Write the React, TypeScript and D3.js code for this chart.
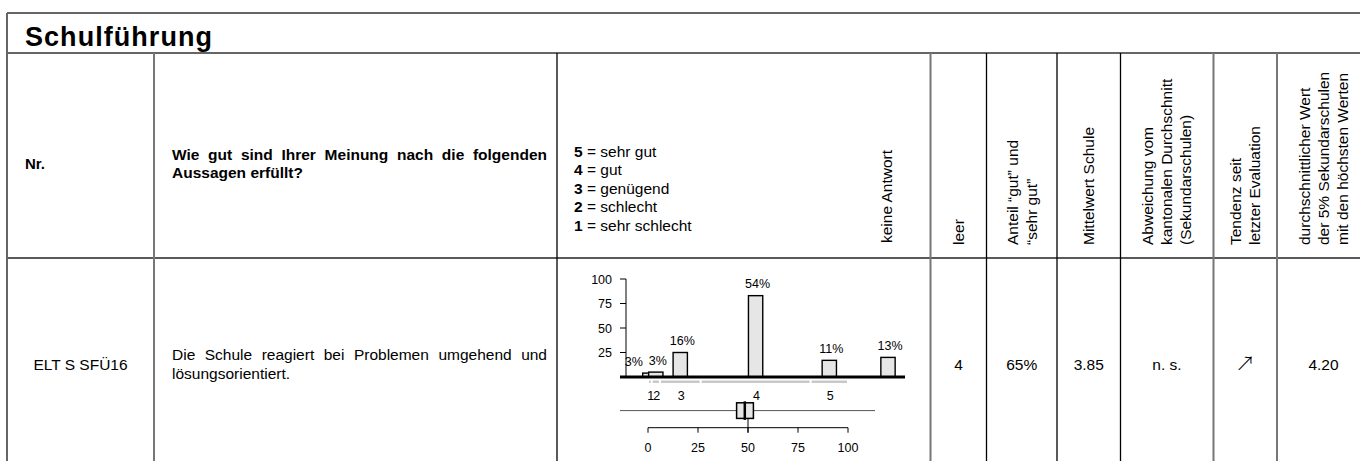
import React from 'react';
import * as d3 from 'd3';

// ---------- data ----------
const title = 'Schulführung';
const headerNr = 'Nr.';
const headerQuestion = 'Wie gut sind Ihrer Meinung nach die folgenden Aussagen erfüllt?';
const legendKeys = ['5', '4', '3', '2', '1'];
const legendLabels = ['sehr gut', 'gut', 'genügend', 'schlecht', 'sehr schlecht'];
const noAnswerLabel = 'keine Antwort';
const columnHeaders: string[][] = [
  ['leer'],
  ['Anteil “gut” und', '“sehr gut”'],
  ['Mittelwert Schule'],
  ['Abweichung vom', 'kantonalen Durchschnitt', '(Sekundarschulen)'],
  ['Tendenz seit', 'letzter Evaluation'],
  ['durchschnittlicher Wert', 'der 5% Sekundarschulen', 'mit den höchsten Werten'],
];
const itemNr = 'ELT S SFÜ16';
const itemText = 'Die Schule reagiert bei Problemen umgehend und lösungsorientiert.';
const rowValues = ['4', '65%', '3.85', 'n. s.', '↗', '4.20'];

const categories = ['1', '2', '3', '4', '5'];
const counts = [4, 5, 25, 83, 17];
const percents = ['3%', '3%', '16%', '54%', '11%'];
const catBounds = [0, 1.85, 5.95, 26.3, 81.3, 100];
const noAnswerCount = 20;
const noAnswerPercent = '13%';
const noAnswerPos = 120;
const yTicks = [25, 50, 75, 100];
const xTicks = [0, 25, 50, 75, 100];
const boxLo = -14;
const boxQ1 = 44.3;
const boxMedian = 48.4;
const boxQ3 = 52.7;
const boxHi = 113.5;

// ---------- layout ----------
const W = 1360;
const H = 461;
const FONT = "'Liberation Sans', Arial, Helvetica, sans-serif";
const colX = [7, 154, 557, 930.5, 986.5, 1057, 1120.5, 1213.5, 1277, 1370];
const grayCols = new Set([0, 1, 3, 7, 8]);
const yTop = 13;
const yTitle = 53;
const yHead = 258;

let ctx: CanvasRenderingContext2D | null = null;
function measure(text: string, font: string) {
  if (!ctx) ctx = document.createElement('canvas').getContext('2d');
  ctx!.font = font;
  return ctx!.measureText(text).width;
}

function justify(text: string, font: string, width: number) {
  const words = text.split(' ');
  const space = measure(' ', font);
  const lines: string[][] = [];
  let cur: string[] = [];
  let curW = 0;
  words.forEach((w) => {
    const ww = measure(w, font);
    const nw = cur.length ? curW + space + ww : ww;
    if (cur.length && nw > width) {
      lines.push(cur);
      cur = [w];
      curW = ww;
    } else {
      cur.push(w);
      curW = nw;
    }
  });
  if (cur.length) lines.push(cur);
  return lines.map((ln, li) => {
    const widths = ln.map((w) => measure(w, font));
    const total = d3.sum(widths);
    const last = li === lines.length - 1;
    const gap = !last && ln.length > 1 ? (width - total) / (ln.length - 1) : space;
    let xx = 0;
    return ln.map((w, i) => {
      const r = { w, x: xx };
      xx += widths[i] + gap;
      return r;
    });
  });
}

function JustifiedText({ text, x, y, width, size, weight, lh }: any) {
  const font = `${weight} ${size}px 'Liberation Sans'`;
  const lines = justify(text, font, width);
  return (
    <g>
      {lines.map((ln, i) => (
        <text key={i} y={y + i * lh} fontSize={size} fontWeight={weight} fontFamily={FONT}>
          {ln.map((wd, j) => (
            <tspan key={j} x={x + wd.x}>{wd.w}</tspan>
          ))}
        </text>
      ))}
    </g>
  );
}

export default function App() {
  const x = d3.scaleLinear().domain([0, 100]).range([648, 848]);
  const y = d3.scaleLinear().domain([0, 100]).range([377, 279]);
  const barW = 14.3;
  const mids = categories.map((_, i) => (catBounds[i] + catBounds[i + 1]) / 2);
  const bars = categories
    .map((c, i) => ({ key: c, pos: mids[i], count: counts[i], pct: percents[i] }))
    .concat([{ key: 'kA', pos: noAnswerPos, count: noAnswerCount, pct: noAnswerPercent }]);

  // label positions with simple collision avoidance
  const labelX = bars.map((b) => x(b.pos) + 2);
  for (let i = labelX.length - 1; i > 0; i--) {
    if (labelX[i] - labelX[i - 1] < 24) labelX[i - 1] = labelX[i] - 24;
  }

  const rowBase = 369.5;
  const boxY = 410.6;
  const boxH = 15.6;
  const axisY = 427.7;

  return (
    <svg width={W} height={H} style={{ position: 'absolute', left: 0, top: 0, background: '#fff' }}>
      {/* table frame */}
      <line x1={colX[0]} x2={W} y1={yTop} y2={yTop} stroke="#333" strokeWidth={1.5} />
      <line x1={colX[0]} x2={W} y1={yTitle} y2={yTitle} stroke="#333" strokeWidth={1.5} />
      <line x1={colX[0]} x2={W} y1={yHead} y2={yHead} stroke="#222" strokeWidth={1.5} />
      <line x1={colX[0]} x2={colX[0]} y1={yTop} y2={H} stroke="#666" strokeWidth={2} />
      {colX.slice(1, -1).map((cx, i) => (
        <line key={i} x1={cx} x2={cx} y1={yTitle} y2={H}
          stroke={grayCols.has(i + 1) ? '#777' : '#000'} strokeWidth={grayCols.has(i + 1) ? 2 : 1.3} />
      ))}

      {/* title */}
      <text x={25} y={45.5} fontSize={27} fontWeight="bold" fontFamily={FONT} textLength={187} lengthAdjust="spacing">{title}</text>

      {/* header row */}
      <text x={25} y={168.5} fontSize={15} fontWeight="bold" fontFamily={FONT}>{headerNr}</text>
      <JustifiedText text={headerQuestion} x={172} y={159.5} width={375} size={15.5} weight="bold" lh={18.5} />
      {legendKeys.map((k, i) => (
        <text key={k} x={574} y={156.7 + i * 18.5} fontSize={15.5} fontFamily={FONT}>
          <tspan fontWeight="bold">{k}</tspan>
          <tspan> = {legendLabels[i]}</tspan>
        </text>
      ))}
      <text transform={`translate(${x(noAnswerPos) - 1.5},243) rotate(-90)`} dy="0.35em" fontSize={15.5} fontFamily={FONT}>{noAnswerLabel}</text>
      {columnHeaders.map((lines, ci) => {
        const cx = (colX[ci + 3] + colX[ci + 4]) / 2;
        return lines.map((ln, li) => (
          <text key={`${ci}-${li}`}
            transform={`translate(${cx + (li - (lines.length - 1) / 2) * 19},245) rotate(-90)`}
            dy="0.35em" fontSize={15.5} fontFamily={FONT}>{ln}</text>
        ));
      })}

      {/* data row */}
      <text x={(colX[0] + colX[1]) / 2} y={rowBase} textAnchor="middle" fontSize={15.5} fontFamily={FONT}>{itemNr}</text>
      <JustifiedText text={itemText} x={172} y={360} width={375} size={15.5} weight="normal" lh={18.5} />
      {rowValues.map((v, i) => {
        const cx = (colX[i + 3] + colX[i + 4]) / 2;
        if (v === '↗') {
          return <text key={i} x={cx} y={rowBase + 1} textAnchor="middle" fontSize={20} fontFamily="'Noto Sans CJK JP', 'DejaVu Sans', sans-serif" fontWeight={300}>{v}</text>;
        }
        return <text key={i} x={cx} y={rowBase} textAnchor="middle" fontSize={15.5} fontFamily={FONT}>{v}</text>;
      })}

      {/* chart: y axis */}
      <g fontFamily={FONT} fontSize={12.5}>
        <line x1={626} x2={626} y1={y(0)} y2={y(100)} stroke="#000" strokeWidth={1} />
        {yTicks.map((t) => (
          <g key={t}>
            <line x1={620} x2={626} y1={y(t)} y2={y(t)} stroke="#000" strokeWidth={1} />
            <text x={612} y={y(t) + 4.5} textAnchor="end">{t}</text>
          </g>
        ))}

        {/* bars */}
        {bars.map((b) => (
          <rect key={b.key} x={x(b.pos) - barW / 2} y={y(b.count)} width={barW} height={y(0) - y(b.count)}
            fill="#e6e6e6" stroke="#000" strokeWidth={1.4} />
        ))}
        {bars.map((b, i) => (
          <text key={b.key} x={labelX[i]} y={y(b.count) - 7.5} textAnchor="middle">{b.pct}</text>
        ))}
        <line x1={620} x2={905} y1={y(0)} y2={y(0)} stroke="#000" strokeWidth={3} />

        {/* category ranges */}
        {categories.map((c, i) => (
          <line key={c} x1={x(catBounds[i] + 0.5)} x2={x(catBounds[i + 1] - 0.5)} y1={381.7} y2={381.7}
            stroke="#c8c8c8" strokeWidth={2.5} />
        ))}
        {categories.map((c, i) => (
          <text key={c} x={x(mids[i]) + 1} y={399.5} textAnchor="middle">{c}</text>
        ))}

        {/* box plot */}
        <line x1={x(boxLo)} x2={x(boxHi)} y1={boxY} y2={boxY} stroke="#555" strokeWidth={1} />
        <line x1={x(50)} x2={x(50)} y1={boxY} y2={axisY + 5} stroke="#000" strokeWidth={1} />
        <rect x={x(boxQ1)} y={boxY - boxH / 2} width={x(boxQ3) - x(boxQ1)} height={boxH}
          fill="#e6e6e6" stroke="#000" strokeWidth={1.5} />
        <line x1={x(boxMedian)} x2={x(boxMedian)} y1={boxY - boxH / 2 - 1.5} y2={boxY + boxH / 2 + 1.5}
          stroke="#000" strokeWidth={2.5} />

        {/* bottom axis */}
        <line x1={x(0)} x2={x(100)} y1={axisY} y2={axisY} stroke="#000" strokeWidth={1} />
        {xTicks.map((t) => (
          <g key={t}>
            <line x1={x(t)} x2={x(t)} y1={axisY} y2={axisY + 5} stroke="#000" strokeWidth={1} />
            <text x={x(t)} y={452} textAnchor="middle">{t}</text>
          </g>
        ))}
      </g>
    </svg>
  );
}
